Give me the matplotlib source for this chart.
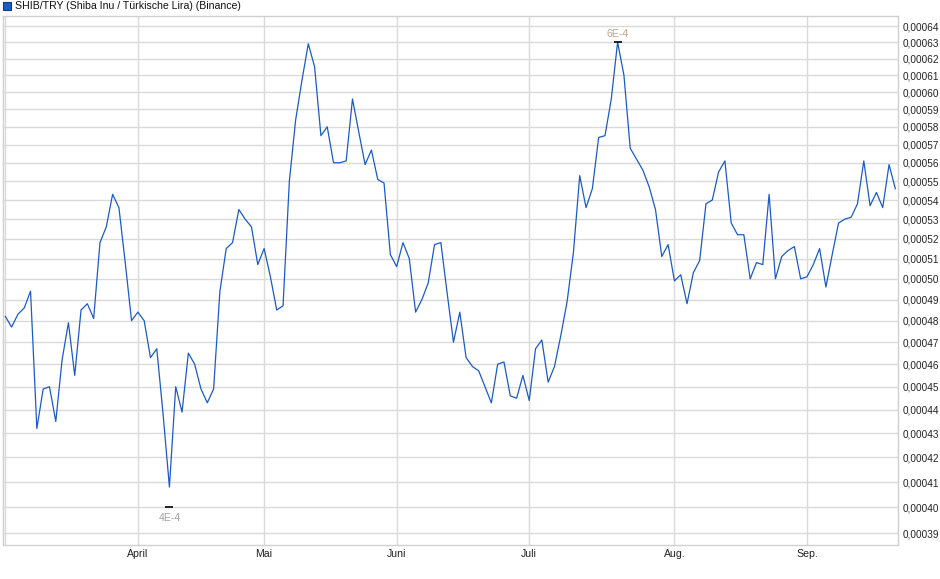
import numpy as np
import matplotlib
matplotlib.use('Agg')
import matplotlib.pyplot as plt
from matplotlib.ticker import FixedLocator, FuncFormatter, NullLocator
from matplotlib.patches import Rectangle

plt.rcParams['font.family'] = ['Liberation Sans', 'DejaVu Sans']

# Schlusskurse SHIB/TRY, ein Wert pro Handelstag (Maerz bis Sep.)
kurs = [
    0.000482, 0.000477, 0.000483, 0.000486, 0.000494, 0.000432, 0.000449, 0.000450,
    0.000435, 0.000462, 0.000479, 0.000455, 0.000485, 0.000488, 0.000481, 0.000518,
    0.000526, 0.000543, 0.000536, 0.000508, 0.000480, 0.000484, 0.000480, 0.000463,
    0.000467, 0.000438, 0.000408, 0.000450, 0.000439, 0.000465, 0.000460, 0.000449,
    0.000443, 0.000449, 0.000494, 0.000515, 0.000518, 0.000535, 0.000530, 0.000526,
    0.000507, 0.000515, 0.000501, 0.000485, 0.000487, 0.000550, 0.000584, 0.000607,
    0.000629, 0.000615, 0.000575, 0.000580, 0.000560, 0.000560, 0.000561, 0.000596,
    0.000577, 0.000559, 0.000567, 0.000551, 0.000549, 0.000512, 0.000506, 0.000518,
    0.000510, 0.000484, 0.000490, 0.000498, 0.000517, 0.000518, 0.000493, 0.000470,
    0.000484, 0.000463, 0.000459, 0.000457, 0.000450, 0.000443, 0.000460, 0.000461,
    0.000446, 0.000445, 0.000455, 0.000444, 0.000467, 0.000471, 0.000452, 0.000459,
    0.000473, 0.000489, 0.000513, 0.000553, 0.000536, 0.000546, 0.000574, 0.000575,
    0.000596, 0.000630, 0.000610, 0.000568, 0.000562, 0.000556, 0.000547, 0.000535,
    0.000511, 0.000517, 0.000499, 0.000502, 0.000488, 0.000503, 0.000509, 0.000538,
    0.000540, 0.000555, 0.000561, 0.000528, 0.000522, 0.000522, 0.000500, 0.000508,
    0.000507, 0.000543, 0.000500, 0.000511, 0.000514, 0.000516, 0.000500, 0.000501,
    0.000507, 0.000515, 0.000496, 0.000512, 0.000528, 0.000530, 0.000531, 0.000538,
    0.000561, 0.000537, 0.000544, 0.000536, 0.000559, 0.000546,
]

# erster Handelstag jedes Monats
monate = ['April', 'Mai', 'Juni', 'Juli', 'Aug.', 'Sep.']
monat_idx = [21, 41, 62, 83, 106, 127]

y_werte = [round(0.00039 + k * 0.00001, 5) for k in range(26)]

hoch_wert = 0.00063
tief_wert = 0.00040
hoch_text = '6E-4'
tief_text = '4E-4'

titel = 'SHIB/TRY (Shiba Inu / Türkische Lira) (Binance)'

blau = '#1a5bc7'
grau = '#dadada'

W, H = 940, 579
fig = plt.figure(figsize=(W / 100, H / 100), dpi=100)
ax = fig.add_axes([2.7 / W, 34 / H, 895.3 / W, 529 / H])

x = np.arange(len(kurs))
ax.plot(x, kurs, color=blau, lw=0.9, zorder=3)

ax.set_yscale('log')
ax.set_ylim(0.00038557, 0.00064628)
ax.set_xlim(-0.41, len(kurs) - 1 + 0.42)

ax.yaxis.tick_right()
ax.yaxis.set_major_locator(FixedLocator(y_werte))
ax.yaxis.set_minor_locator(NullLocator())
ax.yaxis.set_major_formatter(FuncFormatter(lambda v, p: f'{v:.5f}'.replace('.', ',')))

ax.set_xticks(monat_idx)
ax.set_xticklabels(monate)
ax.xaxis.set_minor_locator(NullLocator())

ax.tick_params(axis='both', length=0, colors='#222222')
ax.tick_params(axis='y', pad=3.5, labelsize=7.2)
ax.tick_params(axis='x', pad=3, labelsize=7.6)

ax.grid(True, color=grau, lw=1)
ax.axvline(0, color=grau, lw=1, zorder=1)
for s in ax.spines.values():
    s.set_color('#d0d0d0')
    s.set_linewidth(1)

# Hoch / Tief Markierung
i_max = int(np.argmax(kurs))
i_min = int(np.argmin(kurs))
ax.plot(i_max, hoch_wert, marker='_', ms=6, mew=1.2, color='black', zorder=4)
ax.plot(i_min, tief_wert, marker='_', ms=6, mew=1.2, color='black', zorder=4)
ax.annotate(hoch_text, (i_max, hoch_wert), xytext=(0, 6), textcoords='offset points',
            ha='center', va='center', fontsize=7.6, color='#c0a48a')
ax.annotate(tief_text, (i_min, tief_wert), xytext=(0, -7.5), textcoords='offset points',
            ha='center', va='center', fontsize=7.6, color='#9ea4ab')

# Legende oben links
fig.patches.append(Rectangle((3 / W, 1 - 10 / H), 8 / W, 8 / H, transform=fig.transFigure,
                             facecolor=blau, edgecolor='#0e3c8c', lw=0.8))
fig.text(15 / W, 1 - 6 / H, titel, fontsize=7.6, va='center', ha='left', color='#111111')

fig.savefig('out.png', dpi=100)
